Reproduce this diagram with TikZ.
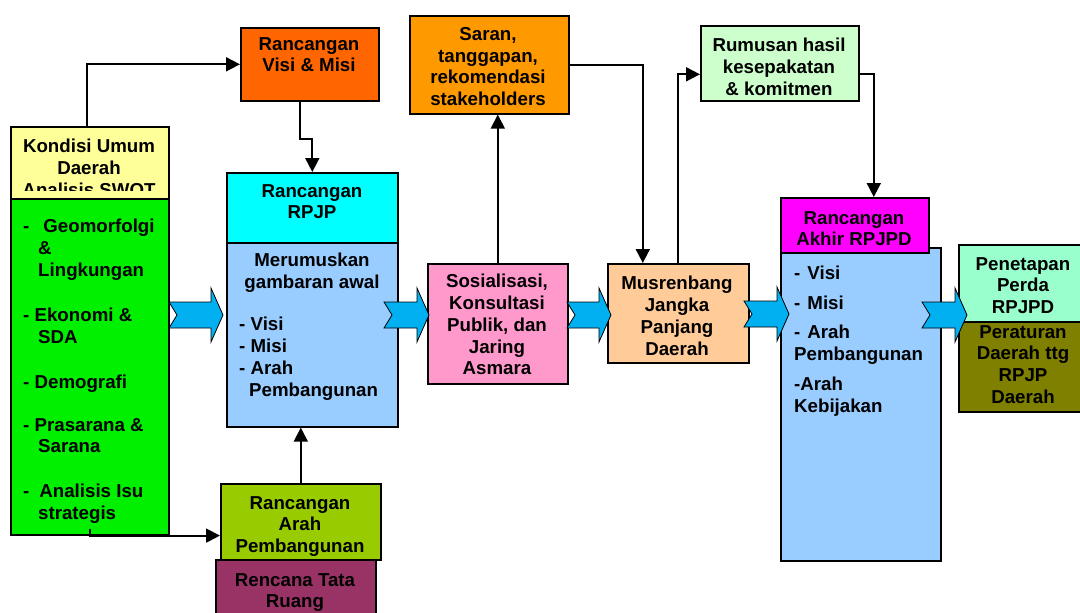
\documentclass[tikz,border=0pt]{standalone}
\usepackage{fontspec}
\setmainfont{Liberation Sans}
\usetikzlibrary{arrows.meta}

\definecolor{kondisi}{HTML}{FFFF99}
\definecolor{hijau}{HTML}{00F000}
\definecolor{oranye}{HTML}{FF6600}
\definecolor{sian}{HTML}{00FFFF}
\definecolor{birumuda}{HTML}{99CCFF}
\definecolor{arah}{HTML}{99CC00}
\definecolor{tataruang}{HTML}{993366}
\definecolor{saran}{HTML}{FF9900}
\definecolor{sosial}{HTML}{FF99CC}
\definecolor{musren}{HTML}{FFCC99}
\definecolor{rumusan}{HTML}{CCFFCC}
\definecolor{akhir}{HTML}{FF00FF}
\definecolor{penetapan}{HTML}{99FFCC}
\definecolor{perda}{HTML}{808000}
\definecolor{panah}{HTML}{00B0F0}

\tikzset{
  kotak/.style={draw=black, line width=1.6pt, inner sep=0pt, anchor=north west},
  ukuran/.style 2 args={minimum width=#1pt, minimum height=#2pt},
  teks/.style={inner sep=0pt, align=center, anchor=north, font=\bfseries\fontsize{18.7}{21.8}\selectfont},
  daftar/.style={teks, align=left, anchor=north west},
  garis/.style={line width=1.8pt, -{Triangle[length=14pt,width=14pt]}},
  blokarr/.style={fill=panah, draw=black, line width=0.8pt},
}

% panah blok bertakik: kiri, ujung, tengah
\newcommand{\blokpanah}[3]{%
  \filldraw[blokarr] (#1,{#3-13}) -- ({#2-12},{#3-13}) -- ({#2-12},{#3-27}) -- (#2,#3)
    -- ({#2-12},{#3+27}) -- ({#2-12},{#3+13}) -- (#1,{#3+13}) -- ({#1+8},#3) -- cycle;}

\begin{document}
\begin{tikzpicture}[x=1pt,y=-1pt]
\useasboundingbox (0,0) rectangle (1080,613);

% kondisi umum
\node[kotak, ukuran={158}{72}, fill=kondisi] (khead) at (10,126) {};
\begin{scope}
  \clip (10,126) rectangle (168,190);
  \node[teks, font=\bfseries\fontsize{18.7}{22}\selectfont] (kheadt) at (89,138.5) {Kondisi Umum\\Daerah\\Analisis SWOT};
\end{scope}
\node[kotak, ukuran={158}{336}, fill=hijau] (kbody) at (10,198) {};
\node[daftar] (kitems) at (23,219) {-\hspace{14pt}Geomorfolgi\\\hspace*{15pt}\&\\\hspace*{15pt}Lingkungan\\[23.2pt]%
  - Ekonomi \&\\\hspace*{15pt}SDA\\[23.2pt]%
  - Demografi\\[21.2pt]%
  - Prasarana \&\\\hspace*{15pt}Sarana\\[23.2pt]%
  -\hspace{10pt}Analisis Isu\\\hspace*{15pt}strategis};

% rancangan RPJP
\node[kotak, ukuran={138}{73}, fill=oranye] (visi) at (240,27) {};
\node[teks] (visit) at (309,37) {Rancangan\\Visi \& Misi};
\node[kotak, ukuran={171}{184}, fill=birumuda] (rbody) at (226,242) {};
\node[kotak, ukuran={171}{70}, fill=sian] (rpjp) at (226,172) {};
\node[teks] (rpjpt) at (312,184) {Rancangan\\RPJP};
\node[teks] (rbodyt) at (312,253) {Merumuskan\\gambaran awal};
\node[daftar] (ritems) at (239,317) {- Visi\\- Misi\\- Arah\\\hspace*{10pt}Pembangunan};
\node[kotak, ukuran={160}{76}, fill=arah] (arah) at (220,483) {};
\node[teks] (araht) at (300,496) {Rancangan\\Arah\\Pembangunan};
\node[kotak, ukuran={160}{66}, fill=tataruang] (ruang) at (215,559) {};
\node[teks] (ruangt) at (295,573) {Rencana Tata\\Ruang};

% konsultasi dan musrenbang
\node[kotak, ukuran={159}{98}, fill=saran] (saran) at (409,15) {};
\node[teks] (sarant) at (488,27) {Saran,\\tanggapan,\\rekomendasi\\stakeholders};
\node[kotak, ukuran={140}{120}, fill=sosial] (sos) at (427,263) {};
\node[teks] (sost) at (497,274) {Sosialisasi,\\Konsultasi\\Publik, dan\\Jaring\\Asmara};
\node[kotak, ukuran={141}{99}, fill=musren] (mus) at (607,263) {};
\node[teks] (must) at (677,276) {Musrenbang\\Jangka\\Panjang\\Daerah};
\node[kotak, ukuran={158}{75}, fill=rumusan] (rumus) at (700,25) {};
\node[teks] (rumust) at (779,38) {Rumusan hasil\\kesepakatan\\\& komitmen};

% rancangan akhir dan penetapan
\node[kotak, ukuran={160}{313}, fill=birumuda] (abody) at (780,247) {};
\node[kotak, ukuran={148}{55}, fill=akhir] (akhir) at (780,197) {};
\node[teks] (akhirt) at (854,211) {Rancangan\\Akhir RPJPD};
\node[daftar] (aitems) at (794,266) {-\hspace{7pt}Visi\\[8.2pt]-\hspace{7pt}Misi\\[7.2pt]-\hspace{7pt}Arah\\Pembangunan\\[8.2pt]-Arah\\Kebijakan};
\node[kotak, ukuran={130}{77}, fill=penetapan] (tetap) at (958,244) {};
\node[teks] (tetapt) at (1023,257) {Penetapan\\Perda\\RPJPD};
\node[kotak, ukuran={130}{90}, fill=perda] (perda) at (958,321) {};
\node[teks] (perdat) at (1023,325) {Peraturan\\Daerah ttg\\RPJP\\Daerah};

% penghubung
\draw[garis] ([xshift=-3pt]khead.north) |- (visi.west);
\draw[garis] ([xshift=-10pt]visi.south) -- ++(0,37) -| (rpjp.north);
\draw[garis] ([yshift=7pt]kbody.south) -- (kbody.south) -- (kbody.south -| arah.west);
\draw[garis] (arah.north) -- (arah.north |- rbody.south);
\draw[garis] (sos.north) -- (sos.north |- saran.south);
\draw[garis] (saran.east) -| ([xshift=-35.5pt]mus.north);
\draw[garis] (mus.north) |- ([yshift=-11pt]rumus.west);
\draw[garis] ([yshift=-11pt]rumus.east) -| ([xshift=19pt]akhir.north);

% panah blok
\blokpanah{169}{223}{315}
\blokpanah{384}{429}{315}
\blokpanah{567}{611}{315}
\blokpanah{744}{789}{314}
\blokpanah{922}{967}{315}
\end{tikzpicture}
\end{document}
